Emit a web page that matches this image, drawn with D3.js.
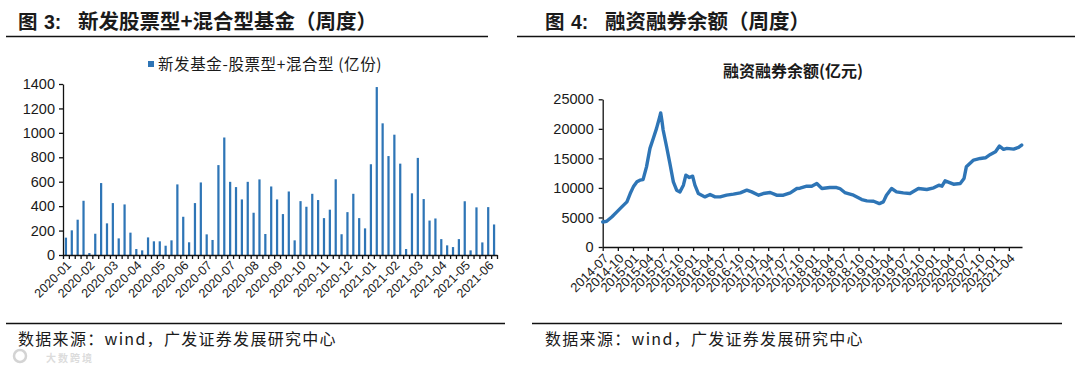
<!DOCTYPE html>
<html><head><meta charset="utf-8">
<script src="https://cdn.jsdelivr.net/npm/d3@7"></script>
<style>body{margin:0;background:#fff}svg{display:block}</style>
</head><body><svg id="c" width="1080" height="365"></svg>
<script>
// ---------- data: left chart (weekly new fund issuance, 亿份) ----------
const barValues = [
  142, 202, 289, 444, 16, 174, 589, 259, 425, 136,
  414, 183, 49, 38, 144, 112, 112, 76, 120, 578,
  313, 104, 425, 594, 169, 123, 736, 962, 599, 556,
  455, 599, 346, 619, 172, 561, 455, 335, 520, 120,
  441, 395, 501, 450, 302, 371, 620, 170, 351, 501,
  302, 218, 743, 1375, 1078, 810, 985, 748, 49, 505,
  795, 458, 282, 299, 130, 79, 65, 130, 440, 38,
  390, 103, 392, 250
];
const barTickLabels = ["2020-01","2020-02","2020-03","2020-04","2020-05","2020-06","2020-07","2020-07",
  "2020-08","2020-09","2020-10","2020-11","2020-12","2021-01","2021-02","2021-03","2021-04","2021-05","2021-06"];
const leftYTicks = [0, 200, 400, 600, 800, 1000, 1200, 1400];

// ---------- data: right chart (margin balance, 亿元) ----------
const lineDates = ["2014-07-01","2014-07-25","2014-08-25","2014-09-25","2014-10-25","2014-11-25","2014-12-15",
  "2015-01-03","2015-01-25","2015-02-12","2015-03-03","2015-03-24","2015-04-14","2015-05-04","2015-05-24",
  "2015-06-12","2015-06-18","2015-06-25","2015-07-03","2015-07-24","2015-08-13","2015-09-03","2015-09-23",
  "2015-10-13","2015-11-03","2015-11-18","2015-12-09","2015-12-29","2016-01-12","2016-02-02","2016-02-22",
  "2016-03-13","2016-04-13","2016-05-13","2016-06-13","2016-07-22","2016-09-02","2016-10-13","2016-11-22",
  "2016-12-22","2017-02-02","2017-03-02","2017-04-13","2017-05-22","2017-07-02","2017-08-13","2017-09-22",
  "2017-10-11","2017-11-21","2017-12-21","2018-01-21","2018-02-21","2018-04-10","2018-05-21","2018-06-10",
  "2018-07-10","2018-09-01","2018-10-21","2018-11-21","2019-01-01","2019-02-05","2019-03-01","2019-03-20",
  "2019-04-20","2019-05-20","2019-06-30","2019-08-10","2019-09-30","2019-11-20","2020-01-01","2020-02-01",
  "2020-02-20","2020-03-10","2020-04-30","2020-06-10","2020-07-03","2020-07-17","2020-08-30","2020-10-10",
  "2020-11-10","2020-12-10","2021-01-10","2021-02-03","2021-02-28","2021-03-20","2021-04-30","2021-05-30",
  "2021-06-18"];
const lineValues = [4240, 4350, 5090, 5940, 6790, 7640, 9050,
  10180, 11030, 11310, 11400, 13570, 16690, 18380, 20080,
  22000, 22700, 21500, 19800, 16970, 14140, 11030, 9620,
  9330, 10460, 12160, 11760, 11990, 10460, 9050, 8770,
  8480, 8880, 8480, 8480, 8770, 8940, 9160, 9620,
  9330, 8770, 9050, 9220, 8770, 8770, 9160, 9900,
  9950, 10290, 10290, 10750, 9900, 10070, 10070, 9900,
  9220, 8770, 8030, 7810, 7750, 7350, 7640, 8770,
  9900, 9330, 9160, 9050, 9900, 9730, 10010, 10460,
  10290, 11200, 10630, 10750, 11600, 13570, 14710, 14990,
  15100, 15670, 16120, 17080, 16520, 16690, 16570, 16860,
  17250];
const lineTickLabels = ["2014-07","2014-10","2015-01","2015-04","2015-07","2015-10","2016-01","2016-04",
  "2016-07","2016-10","2017-01","2017-04","2017-07","2017-10","2018-01","2018-04","2018-07","2018-10",
  "2019-01","2019-04","2019-07","2019-10","2020-01","2020-04","2020-07","2020-10","2021-01","2021-04"];
const rightYTicks = [0, 5000, 10000, 15000, 20000, 25000];

// ---------- drawing ----------
const svg = d3.select("#c");
const CJK = "'Noto Sans CJK SC', 'Noto Sans', sans-serif";
const NUM = "'Liberation Sans', Arial, sans-serif";
const BLUE = "#2e75b6";
const INK = "#1a1a1a";
const fmt = d3.format("d");

function rule(x1, x2, y) {
  svg.append("line").attr("x1", x1).attr("x2", x2).attr("y1", y).attr("y2", y)
    .attr("stroke", "#111").attr("stroke-width", 1.5);
}
function title(x, num, rest) {
  const t = svg.append("text").attr("y", 29).attr("font-family", CJK).attr("font-weight", "bold")
    .attr("font-size", 19.5).attr("fill", INK);
  t.append("tspan").attr("x", x).text("图");
  t.append("tspan").attr("x", x + 26).attr("font-family", NUM).text(num + ":");
  t.append("tspan").attr("x", x + 60).attr("font-size", 20.5).text(rest);
}
title(18, "3", "新发股票型+混合型基金（周度）");
title(545, "4", "融资融券余额（周度）");
rule(6, 488, 36.5); rule(517, 1075, 36.5);
rule(6, 505, 323.5); rule(532, 1062, 323.5);
// sources
[18, 545].forEach(x => {
  svg.append("text").attr("x", x).attr("y", 345).attr("font-family", CJK).attr("font-size", 16)
    .attr("letter-spacing", 1.3).attr("fill", INK).text("数据来源：wind，广发证券发展研究中心");
});
// faint watermark from the original image
svg.append("circle").attr("cx", 20).attr("cy", 356).attr("r", 6).attr("fill", "none")
  .attr("stroke", "#d4d4d4").attr("stroke-width", 2.5);
svg.append("text").attr("x", 46).attr("y", 362).attr("font-family", CJK).attr("font-weight", "bold")
  .attr("font-size", 10).attr("fill", "#dcdcdc").attr("letter-spacing", 2).text("大数跨境");

// ===== left chart =====
const xL = d3.scaleBand().domain(d3.range(barValues.length)).range([63, 497])
  .paddingInner(0.62).paddingOuter(0.31);
const xLb = d3.scaleLinear().domain([0, barValues.length]).range([63, 497]);
const yL = d3.scaleLinear().domain([0, 1400]).range([255, 84]);

svg.append("g").selectAll("rect").data(barValues).join("rect")
  .attr("x", (d, i) => xL(i)).attr("width", xL.bandwidth())
  .attr("y", d => yL(d)).attr("height", d => yL(0) - yL(d)).attr("fill", BLUE);

const gyL = svg.append("g").attr("transform", "translate(63,0)")
  .call(d3.axisLeft(yL).tickValues(leftYTicks).tickFormat(fmt).tickSize(4).tickSizeOuter(0).tickPadding(4));
gyL.selectAll("text").attr("font-family", NUM).attr("font-size", 14.5).attr("fill", INK);
gyL.selectAll("line,path").attr("stroke", "#111").attr("stroke-width", 1.3);

const gxL = svg.append("g").attr("transform", "translate(0,255)")
  .call(d3.axisBottom(xLb).tickValues(d3.range(barValues.length + 1)).tickFormat("").tickSize(4).tickSizeOuter(0));
gxL.selectAll("line,path").attr("stroke", "#111").attr("stroke-width", 1.3);

const gxLl = svg.append("g").attr("transform", "translate(0,255)")
  .call(d3.axisBottom(xL).tickValues(barTickLabels.map((_, i) => i * 4))
    .tickFormat(i => barTickLabels[i / 4]).tickSize(0));
gxLl.select(".domain").remove();
gxLl.selectAll(".tick text").attr("font-family", NUM).attr("font-size", 12.5).attr("fill", INK)
  .attr("text-anchor", "end").attr("x", 0).attr("y", 0).attr("dy", "0.35em")
  .attr("transform", "translate(3,8) rotate(-45)");

// legend
svg.append("rect").attr("x", 148).attr("y", 61).attr("width", 6).attr("height", 6).attr("fill", BLUE);
svg.append("text").attr("x", 158).attr("y", 70).attr("font-family", CJK).attr("font-size", 15.5)
  .attr("letter-spacing", 0.6).attr("fill", INK).text("新发基金-股票型+混合型 (亿份)");

// ===== right chart =====
const parse = d3.timeParse("%Y-%m-%d");
const parseM = d3.timeParse("%Y-%m");
const lineData = lineDates.map((d, i) => ({ date: parse(d), v: lineValues[i] }));
const xR = d3.scaleTime().domain([parse("2014-07-01"), parse("2021-06-20")]).range([602.7, 1022]);
const yR = d3.scaleLinear().domain([0, 25000]).range([247, 99.3]);

const gyR = svg.append("g").attr("transform", "translate(602.7,0)")
  .call(d3.axisLeft(yR).tickValues(rightYTicks).tickFormat(fmt).tickSize(4).tickSizeOuter(0).tickPadding(5));
gyR.selectAll("text").attr("font-family", NUM).attr("font-size", 14.5).attr("fill", INK);
gyR.selectAll("line,path").attr("stroke", "#111").attr("stroke-width", 1.3);

const tickDates = lineTickLabels.map(parseM);
const gxR = svg.append("g").attr("transform", "translate(0,247)")
  .call(d3.axisBottom(xR).tickValues(tickDates).tickFormat((d, i) => lineTickLabels[i])
    .tickSize(4).tickSizeOuter(0).tickPadding(2));
gxR.selectAll("line,path").attr("stroke", "#111").attr("stroke-width", 1.3);
gxR.selectAll(".tick text").attr("font-family", NUM).attr("font-size", 13).attr("fill", INK)
  .attr("text-anchor", "end").attr("x", 0).attr("y", 0).attr("dy", "0.35em")
  .attr("transform", "translate(3,9) rotate(-45)");

svg.append("path").datum(lineData)
  .attr("d", d3.line().x(d => xR(d.date)).y(d => yR(d.v)))
  .attr("fill", "none").attr("stroke", BLUE).attr("stroke-width", 3.4)
  .attr("stroke-linejoin", "round").attr("stroke-linecap", "round");

svg.append("text").attr("x", 793).attr("y", 77).attr("text-anchor", "middle").attr("font-family", CJK)
  .attr("font-weight", 600).attr("font-size", 16).attr("fill", INK).text("融资融券余额(亿元)");
</script></body></html>
